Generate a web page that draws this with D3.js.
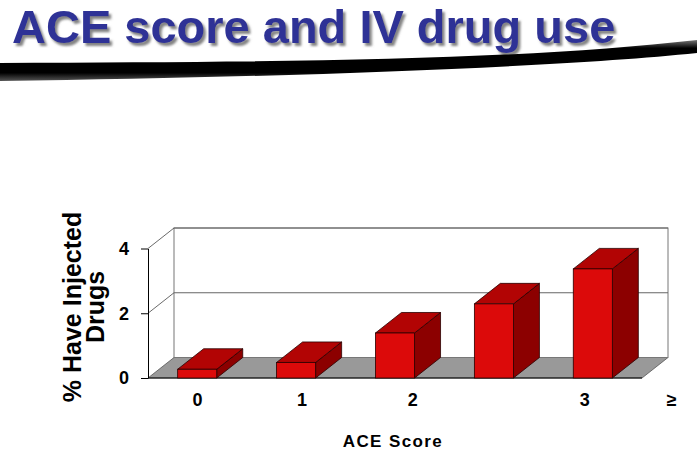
<!DOCTYPE html>
<html>
<head>
<meta charset="utf-8">
<script src="https://cdn.jsdelivr.net/npm/d3@7"></script>
<style>
  body { margin: 0; background: #fff; }
  text { font-family: "Liberation Sans", Arial, sans-serif; font-weight: bold; }
</style>
</head>
<body>
<div id="chart"></div>
<script>
// Chart data
const categories = ['0', '1', '2', '3', '≥4'];
const values = [0.27, 0.48, 1.39, 2.29, 3.37];
const yTicks = [0, 2, 4];
const xLabels = ['0', '1', '2', '3', '≥'];
const xLabelAt = [0, 1.06, 2.18, 3.92, 4.8];   // where the labels sit, in category units
const titleText = 'ACE score and IV drug use';
const yTitle = ['% Have Injected', 'Drugs'];
const xTitle = 'ACE Score';

const width = 697;
const height = 457;
const plotLeft = 148, plotRight = 642, plotBottom = 378, plotTop = 248.5;
const depth = { x: 26, y: -20.5 };

const svg = d3.select('#chart')
    .append('svg')
    .attr('width', width)
    .attr('height', height);

const defs = svg.append('defs');
defs.append('filter').attr('id', 'shadow')
    .attr('x', '-5%').attr('y', '-20%').attr('width', '110%').attr('height', '150%')
    .append('feDropShadow')
    .attr('dx', 2.5).attr('dy', 3)
    .attr('stdDeviation', 1.3)
    .attr('flood-color', '#777')
    .attr('flood-opacity', 0.9);
const grad = defs.append('linearGradient')
    .attr('id', 'swoosh')
    .attr('x1', 0).attr('y1', 0).attr('x2', 0).attr('y2', 1);
grad.append('stop').attr('offset', '0%').attr('stop-color', '#777');
grad.append('stop').attr('offset', '20%').attr('stop-color', '#000');
grad.append('stop').attr('offset', '80%').attr('stop-color', '#000');
grad.append('stop').attr('offset', '100%').attr('stop-color', '#555');

// Title and swoosh
svg.append('text')
    .attr('x', 12).attr('y', 43)
    .attr('font-size', 47)
    .attr('fill', '#2f3296')
    .attr('filter', 'url(#shadow)')
    .text(titleText);

svg.append('path')
    .attr('d', 'M0,63 C300,62 520,60 697,40 L697,53 C560,67 300,77 0,81 Z')
    .attr('fill', 'url(#swoosh)');

// Scales
const x = d3.scaleBand()
    .domain(categories)
    .range([plotLeft, plotRight])
    .paddingInner(0.605)
    .paddingOuter(0.3);

const y = d3.scaleLinear()
    .domain([0, 4])
    .range([plotBottom, plotTop]);

const xl = d3.scaleLinear()
    .domain([-0.5, categories.length - 0.5])
    .range([plotLeft, plotRight]);

const plot = svg.append('g');

// Floor
plot.append('path')
    .attr('d', `M${plotLeft},${plotBottom} L${plotRight},${plotBottom} L${plotRight + depth.x},${plotBottom + depth.y} L${plotLeft + depth.x},${plotBottom + depth.y} Z`)
    .attr('fill', '#999')
    .attr('stroke', '#555')
    .attr('stroke-width', 0.8);

// Back wall
plot.append('rect')
    .attr('x', plotLeft + depth.x)
    .attr('y', y(4) + depth.y)
    .attr('width', plotRight - plotLeft)
    .attr('height', y(0) - y(4))
    .attr('fill', 'none')
    .attr('stroke', '#777')
    .attr('stroke-width', 1);

// Grid lines on back wall and left wall
yTicks.filter(t => t > 0).forEach(t => {
    plot.append('line')
        .attr('x1', plotLeft + depth.x).attr('x2', plotRight + depth.x)
        .attr('y1', y(t) + depth.y).attr('y2', y(t) + depth.y)
        .attr('stroke', '#666').attr('stroke-width', 1);
    plot.append('line')
        .attr('x1', plotLeft).attr('x2', plotLeft + depth.x)
        .attr('y1', y(t)).attr('y2', y(t) + depth.y)
        .attr('stroke', '#444').attr('stroke-width', 0.8);
});

// Front floor edge
plot.append('line')
    .attr('x1', plotLeft).attr('x2', plotRight)
    .attr('y1', plotBottom).attr('y2', plotBottom)
    .attr('stroke', '#000').attr('stroke-width', 1.2);

// Y axis
const yAxis = plot.append('g')
    .attr('transform', `translate(${plotLeft},0)`)
    .call(d3.axisLeft(y).tickValues(yTicks).tickSize(7).tickSizeOuter(0).tickPadding(12).tickFormat(d3.format('d')));
yAxis.select('.domain').attr('stroke', '#000').attr('stroke-width', 1);
yAxis.selectAll('.tick line').attr('stroke', '#000');
yAxis.selectAll('.tick text')
    .attr('font-size', 18)
    .attr('font-weight', 'bold')
    .attr('font-family', '"Liberation Sans", Arial, sans-serif')
    .attr('fill', '#000');

// Bars
const bars = plot.selectAll('.bar')
    .data(values)
    .enter()
    .append('g')
    .attr('class', 'bar');

const bw = x.bandwidth();
const face = (d, i) => ({ x0: x(categories[i]), x1: x(categories[i]) + bw, y0: y(0), y1: y(d) });

bars.append('path')
    .attr('d', (d, i) => {
        const f = face(d, i);
        return `M${f.x1},${f.y0} L${f.x1 + depth.x},${f.y0 + depth.y} L${f.x1 + depth.x},${f.y1 + depth.y} L${f.x1},${f.y1} Z`;
    })
    .attr('fill', '#8c0000')
    .attr('stroke', '#2a0000')
    .attr('stroke-width', 0.8);

bars.append('path')
    .attr('d', (d, i) => {
        const f = face(d, i);
        return `M${f.x0},${f.y1} L${f.x0 + depth.x},${f.y1 + depth.y} L${f.x1 + depth.x},${f.y1 + depth.y} L${f.x1},${f.y1} Z`;
    })
    .attr('fill', '#b20404')
    .attr('stroke', '#2a0000')
    .attr('stroke-width', 0.8);

bars.append('rect')
    .attr('x', (d, i) => x(categories[i]))
    .attr('y', d => y(d))
    .attr('width', bw)
    .attr('height', d => y(0) - y(d))
    .attr('fill', '#dc0a0a')
    .attr('stroke', '#2a0000')
    .attr('stroke-width', 0.8);

// X labels
plot.selectAll('.xlabel')
    .data(xLabels)
    .enter()
    .append('text')
    .attr('class', 'xlabel')
    .attr('x', (d, i) => xl(xLabelAt[i]))
    .attr('y', 405.5)
    .attr('text-anchor', 'middle')
    .attr('font-size', 18)
    .text(d => d);

// Axis titles
svg.append('text')
    .attr('x', 393)
    .attr('y', 446.5)
    .attr('text-anchor', 'middle')
    .attr('font-size', 17)
    .attr('letter-spacing', 1.4)
    .text(xTitle);

const yt = svg.append('text')
    .attr('transform', 'translate(81,307) rotate(-90)')
    .attr('text-anchor', 'middle')
    .attr('font-size', 25);
yt.selectAll('tspan')
    .data(yTitle)
    .enter()
    .append('tspan')
    .attr('x', 0)
    .attr('dy', (d, i) => i === 0 ? 0 : 23)
    .text(d => d);
</script>
</body>
</html>
